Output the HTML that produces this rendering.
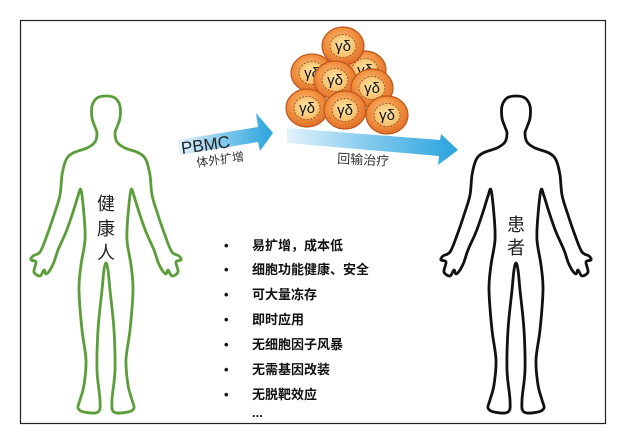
<!DOCTYPE html>
<html><head><meta charset="utf-8"><style>
html,body{margin:0;padding:0;background:#fff;}
svg{display:block;}
text{font-family:"Liberation Sans","Noto Sans CJK SC",sans-serif;}
</style></head><body>
<svg id="s" width="618" height="445" viewBox="0 0 618 445" xmlns="http://www.w3.org/2000/svg">
<defs>
<linearGradient id="ag" x1="0" y1="0" x2="1" y2="0">
<stop offset="0" stop-color="#e3f2fb"/><stop offset="0.5" stop-color="#7ec8ec"/><stop offset="1" stop-color="#2aa3dd"/>
</linearGradient>
<radialGradient id="cg" cx="0.45" cy="0.4" r="0.6">
<stop offset="0" stop-color="#fbc98a"/><stop offset="0.6" stop-color="#f1903f"/><stop offset="1" stop-color="#e0702a"/>
</radialGradient>
<radialGradient id="ig" cx="0.5" cy="0.45" r="0.6">
<stop offset="0" stop-color="#fde7a8"/><stop offset="1" stop-color="#f6b860"/>
</radialGradient>
</defs>
<rect x="20.5" y="20.5" width="585" height="403" fill="#fff" stroke="#222" stroke-width="1.2"/>
<path id="g1" fill="none" stroke="#5a9e3a" stroke-width="2.8" stroke-linejoin="round"/>
<path id="g2" fill="none" stroke="#111" stroke-width="2.8" stroke-linejoin="round"/>
<text x="106" y="210" font-size="18" text-anchor="middle" fill="#222">健</text>
<text x="106" y="235" font-size="18" text-anchor="middle" fill="#222">康</text>
<text x="106" y="259" font-size="18" text-anchor="middle" fill="#222">人</text>
<text x="516" y="231" font-size="18" text-anchor="middle" fill="#222">患</text>
<text x="516" y="254" font-size="18" text-anchor="middle" fill="#222">者</text>
<polygon points="178,140 258,127 256,113 273,133 260,151 258,142 180,155" fill="url(#ag)"/>
<polygon points="287,128 440,140 441,134 458,150 438,165 439,156 287,143" fill="url(#ag)"/>
<text x="182" y="154" font-size="17" fill="#222" transform="rotate(-8 182 154)">PBMC</text>
<text x="197" y="167" font-size="12" fill="#333" transform="rotate(-8 197 167)">体外扩增</text>
<text x="337" y="163" font-size="13" fill="#333" transform="rotate(3 337 163)">回输治疗</text>
<g id="cells"></g>
<g font-size="13" font-weight="bold" fill="#111">
<text x="224" y="250">•</text><text x="252" y="250">易扩增，成本低</text>
<text x="224" y="274">•</text><text x="252" y="274">细胞功能健康、安全</text>
<text x="224" y="299">•</text><text x="252" y="299">可大量冻存</text>
<text x="224" y="324">•</text><text x="252" y="324">即时应用</text>
<text x="224" y="349">•</text><text x="252" y="349">无细胞因子风暴</text>
<text x="224" y="374">•</text><text x="252" y="374">无需基因改装</text>
<text x="224" y="399">•</text><text x="252" y="399">无脱靶效应</text>
<text x="252" y="417">...</text>
</g>
</svg>
<script>
var half=[[0,96],[9,98],[14,106],[14,118],[11,127],[9,133],[11,142],[19,148],[33,153],[40,160],[44,175],[46,195],[52,215],[60,238],[66,252],[73,256],[75,260],[70,262],[72,272],[66,276],[62,270],[60,274],[56,270],[52,262],[48,250],[40,232],[33,212],[28,196],[25,190],[22,215],[21,240],[25,265],[27,290],[24,330],[20,360],[22,385],[26,400],[28,408],[22,412],[8,412],[6,400],[9,370],[8,330],[4,290],[2,270],[0,263]];
function build(cx){
  var pts=half.map(function(p){return [cx+p[0],p[1]];});
  var left=half.slice(1,half.length-1).reverse().map(function(p){return [cx-p[0],p[1]];});
  pts=pts.concat(left);
  var n=pts.length,d="M"+pts[0][0]+","+pts[0][1];
  for(var i=0;i<n;i++){
    var p0=pts[(i-1+n)%n],p1=pts[i],p2=pts[(i+1)%n],p3=pts[(i+2)%n];
    var c1=[p1[0]+(p2[0]-p0[0])/6,p1[1]+(p2[1]-p0[1])/6];
    var c2=[p2[0]-(p3[0]-p1[0])/6,p2[1]-(p3[1]-p1[1])/6];
    d+=" C"+c1[0].toFixed(1)+","+c1[1].toFixed(1)+" "+c2[0].toFixed(1)+","+c2[1].toFixed(1)+" "+p2[0]+","+p2[1];
  }
  return d+"Z";
}
document.getElementById("g1").setAttribute("d",build(106));
document.getElementById("g2").setAttribute("d",build(516));
var cells=[[365,70],[312,73],[343,46],[335,80],[372,88],[307,108],[345,110],[387,115]];
var h="";
cells.forEach(function(c){
  h+='<ellipse cx="'+c[0]+'" cy="'+c[1]+'" rx="21" ry="19" fill="url(#cg)" stroke="#c0561c" stroke-width="1.2"/>';
  h+='<ellipse cx="'+c[0]+'" cy="'+c[1]+'" rx="13" ry="11.5" fill="url(#ig)" stroke="#8a4a1a" stroke-width="0.8" stroke-dasharray="2,1.5"/>';
  h+='<text x="'+c[0]+'" y="'+(c[1]+5)+'" font-size="15" text-anchor="middle" fill="#111" font-family="Liberation Serif,serif">γδ</text>';
});
document.getElementById("cells").innerHTML=h;
</script>
</body></html>
